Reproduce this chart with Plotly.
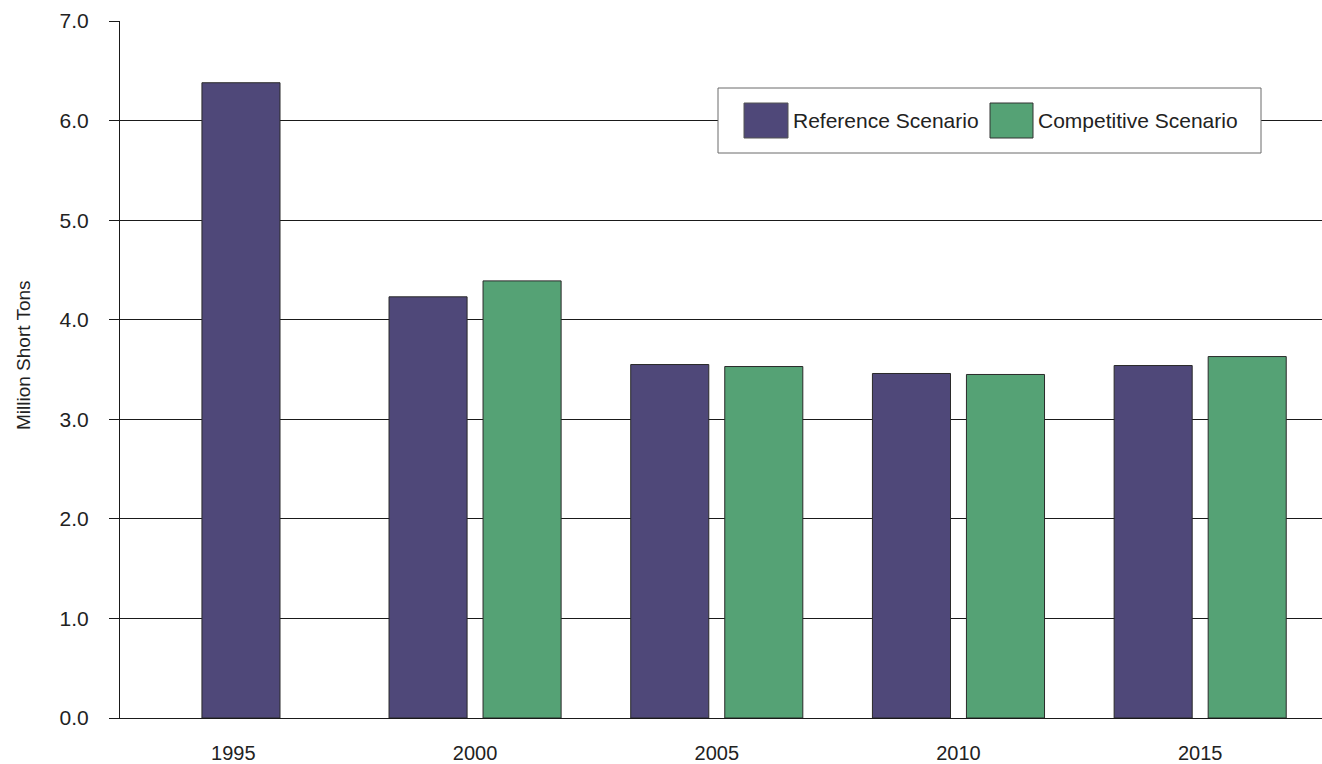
import plotly.graph_objects as go

# Coal output by year and scenario (million short tons)
years = ["1995", "2000", "2005", "2010", "2015"]
reference = [6.38, 4.23, 3.55, 3.46, 3.54]
competitive = [None, 4.39, 3.53, 3.45, 3.63]
y_ticks = [0, 1, 2, 3, 4, 5, 6, 7]
y_tick_text = ["0.0", "1.0", "2.0", "3.0", "4.0", "5.0", "6.0", "7.0"]
series_names = ["Reference Scenario", "Competitive Scenario"]

REF_COLOR = "#4F4879"
COMP_COLOR = "#55A275"
FONT = "Liberation Sans, Arial, Helvetica, sans-serif"
TEXT = "#222222"

W, H = 1322, 764
L, R, T, B = 120, 0, 21, 46

bar_w = 0.323
ref_offsets = [-0.130] + [-0.356] * (len(years) - 1)
comp_offsets = [0.033] * len(years)

fig = go.Figure()
fig.add_trace(go.Bar(
    x=years, y=reference, name=series_names[0],
    width=bar_w, offset=ref_offsets,
    marker=dict(color=REF_COLOR, line=dict(color="#2a2a2a", width=1)),
    showlegend=False,
))
fig.add_trace(go.Bar(
    x=years, y=competitive, name=series_names[1],
    width=bar_w, offset=comp_offsets,
    marker=dict(color=COMP_COLOR, line=dict(color="#2a2a2a", width=1)),
    showlegend=False,
))

# pixel -> paper helpers for the hand-drawn legend
pw, ph = W - L - R, H - T - B
def px(x):
    return (x - L) / pw
def py(y):
    return (H - B - y) / ph

shapes = [
    dict(type="rect", xref="paper", yref="paper", layer="above",
         x0=px(718), x1=px(1261), y0=py(153), y1=py(88),
         fillcolor="white", line=dict(color="#6b6b6b", width=1)),
    dict(type="rect", xref="paper", yref="paper", layer="above",
         x0=px(744), x1=px(788), y0=py(138), y1=py(103),
         fillcolor=REF_COLOR, line=dict(color="#555555", width=1)),
    dict(type="rect", xref="paper", yref="paper", layer="above",
         x0=px(990), x1=px(1033), y0=py(138), y1=py(103),
         fillcolor=COMP_COLOR, line=dict(color="#333333", width=1)),
]

annotations = [
    dict(text=series_names[0], xref="paper", yref="paper",
         x=px(791), y=py(121), xanchor="left", yanchor="middle",
         showarrow=False, font=dict(family=FONT, size=21, color=TEXT)),
    dict(text=series_names[1], xref="paper", yref="paper",
         x=px(1036), y=py(121), xanchor="left", yanchor="middle",
         showarrow=False, font=dict(family=FONT, size=21, color=TEXT)),
    dict(text="Million Short Tons", xref="paper", yref="paper",
         x=px(23), y=py(355), xanchor="center", yanchor="middle",
         textangle=-90, showarrow=False,
         font=dict(family=FONT, size=19, color=TEXT)),
]

fig.update_layout(
    width=W, height=H,
    margin=dict(l=L, r=R, t=T, b=B, pad=0, autoexpand=False),
    paper_bgcolor="white", plot_bgcolor="white",
    barmode="overlay",
    shapes=shapes,
    annotations=annotations,
    xaxis=dict(
        type="category",
        range=[-0.469, 4.504],
        automargin=False,
        showgrid=False, zeroline=False,
        showline=True, linecolor="#1a1a1a", linewidth=1,
        ticks="", ticklabelstandoff=17,
        tickfont=dict(family=FONT, size=20, color=TEXT),
    ),
    yaxis=dict(
        range=[0, 7.0001],
        automargin=False,
        tickvals=y_ticks, ticktext=y_tick_text,
        showgrid=True, gridcolor="#1a1a1a", gridwidth=1,
        zeroline=False,
        showline=True, linecolor="#1a1a1a", linewidth=1,
        ticks="outside", ticklen=10, tickcolor="#1a1a1a", tickwidth=1,
        ticklabelstandoff=16,
        tickfont=dict(family=FONT, size=21, color=TEXT),
    ),
)

fig.write_html("out.html")
